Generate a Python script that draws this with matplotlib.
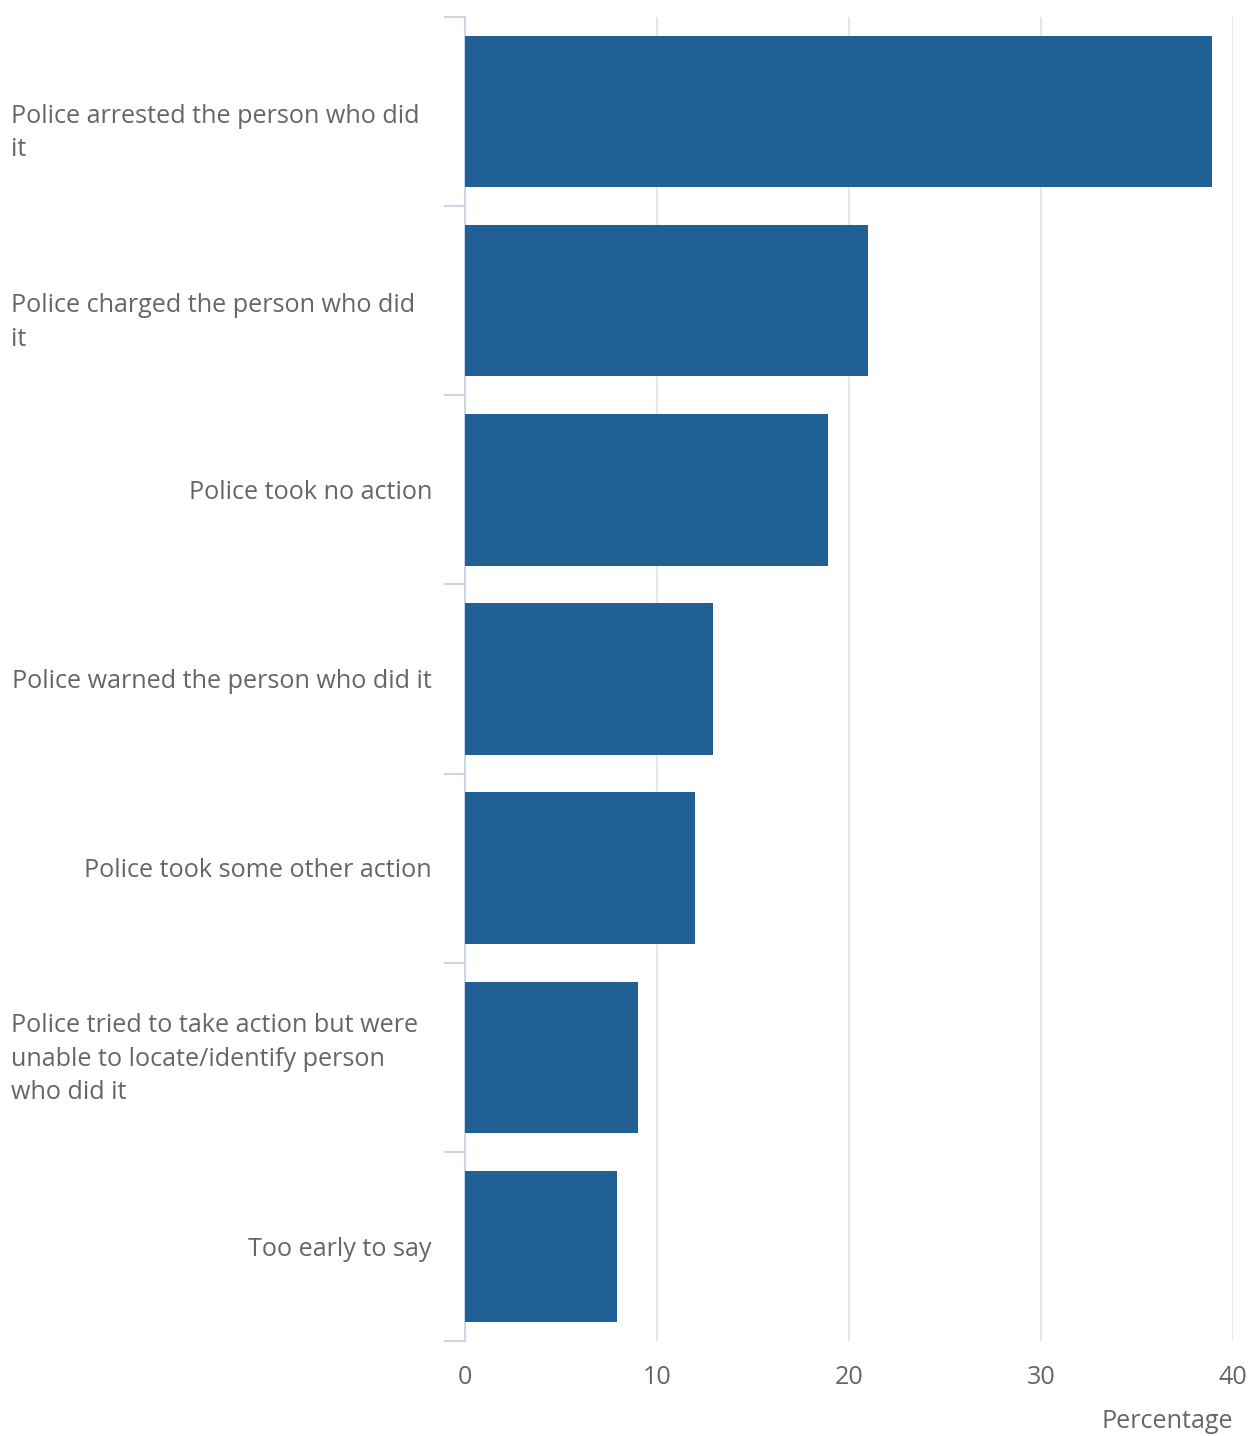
import matplotlib
matplotlib.use("Agg")
import matplotlib.pyplot as plt
import matplotlib.transforms as mtransforms

# --------- data ---------
categories = [
    "Police arrested the person who did\nit",
    "Police charged the person who did\nit",
    "Police took no action",
    "Police warned the person who did it",
    "Police took some other action",
    "Police tried to take action but were\nunable to locate/identify person\nwho did it",
    "Too early to say",
]
values = [38.9, 21.0, 18.9, 12.9, 12.0, 9.0, 7.9]
x_ticks = [0, 10, 20, 30, 40]

# --------- style ---------
plt.rcParams['font.family'] = ['Open Sans', 'DejaVu Sans']
bar_color = '#206095'
text_color = '#666666'
axis_color = '#ccd6eb'
grid_color = '#e6e6e6'
fs = 18.1

fig = plt.figure(figsize=(12.5, 14.36), dpi=100)
ax = fig.add_axes([465/1250, 95/1436, 768/1250, 1324/1436])

ypos = list(range(len(categories)))
ax.barh(ypos, values, height=0.8, color=bar_color, zorder=3)

ax.set_xlim(0, 40)
ax.set_ylim(len(categories) - 0.5, -0.5)
ax.set_xticks(x_ticks)
ax.set_xticklabels([str(t) for t in x_ticks])
ax.tick_params(axis='x', length=0, pad=17, labelsize=fs, labelcolor=text_color)
ax.grid(axis='x', color=grid_color, lw=1.5, zorder=0)

# category boundary ticks
ax.set_yticks([i - 0.5 for i in range(len(categories) + 1)])
ax.set_yticklabels([])
ax.tick_params(axis='y', length=15, width=1.5, color=axis_color)

for s in ['top', 'right', 'bottom']:
    ax.spines[s].set_visible(False)
ax.spines['left'].set_color(axis_color)
ax.spines['left'].set_linewidth(1.5)

# category labels
trans = mtransforms.blended_transform_factory(fig.transFigure, ax.transData)
for i, lab in enumerate(categories):
    nlines = lab.count('\n') + 1
    if nlines == 1:
        t = mtransforms.offset_copy(trans, fig=fig, y=-2, units='points')
        ax.text(432/1250, i, lab, transform=t, ha='right', va='center',
                fontsize=fs, color=text_color)
    elif nlines == 2:
        t = mtransforms.offset_copy(trans, fig=fig, y=-15.5, units='points')
        ax.text(11/1250, i, lab, transform=t, ha='left', va='center',
                fontsize=fs, color=text_color, linespacing=1.45)
    else:
        t = mtransforms.offset_copy(trans, fig=fig, y=-1.5, units='points')
        ax.text(11/1250, i, lab, transform=t, ha='left', va='center',
                fontsize=fs, color=text_color, linespacing=1.45)

fig.text(1233/1250, 1 - 1422/1436, "Percentage", ha='right', va='center',
         fontsize=fs, color=text_color)

fig.savefig("out.png", dpi=100)
